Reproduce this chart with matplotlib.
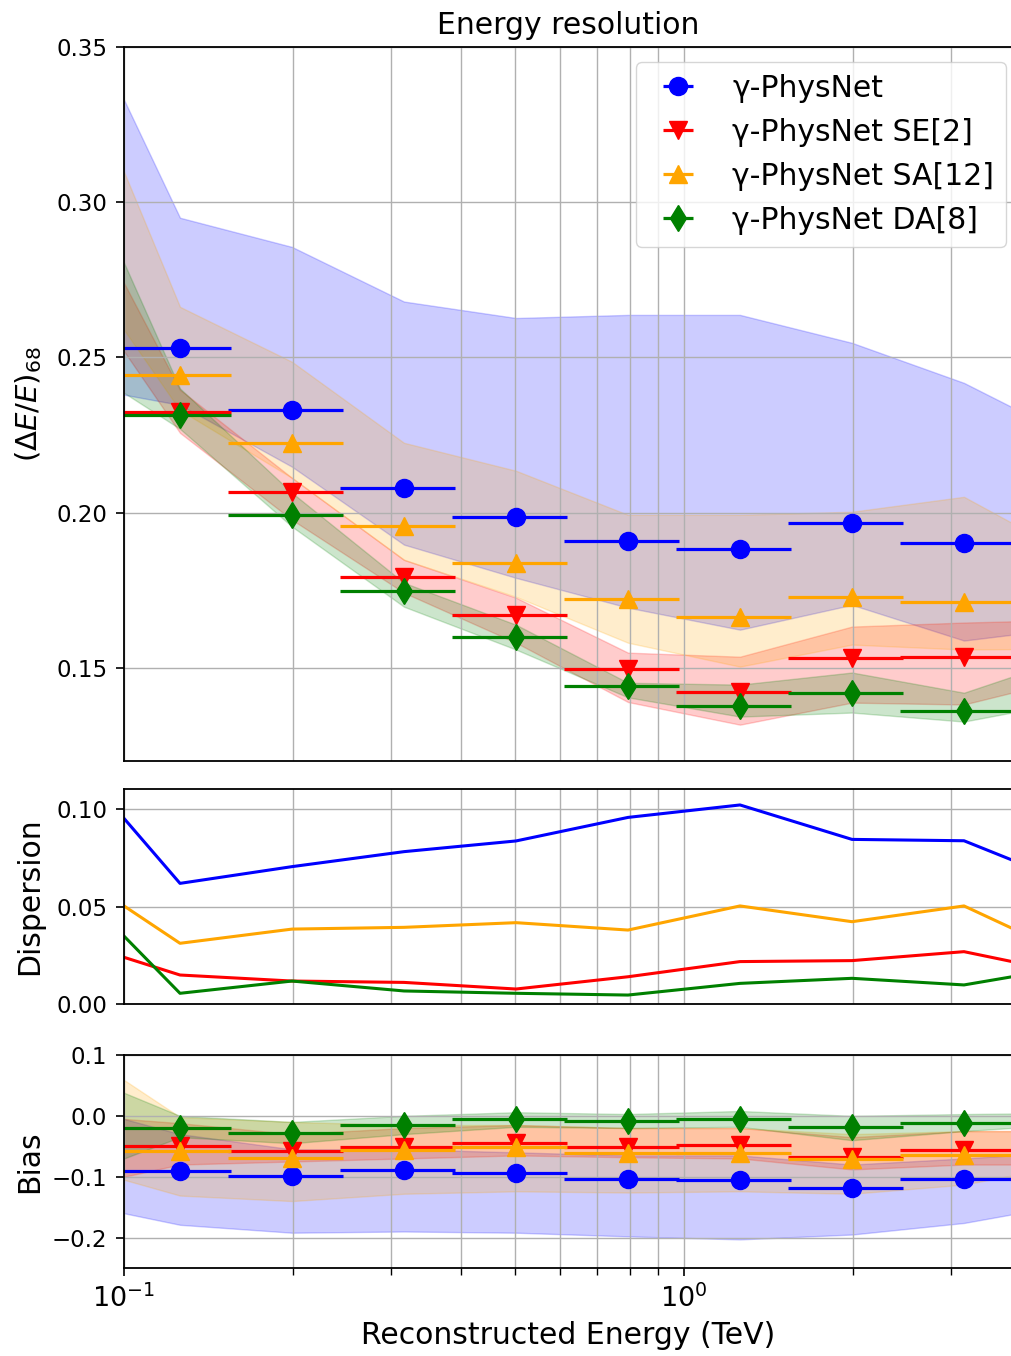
import numpy as np
import matplotlib
matplotlib.use("Agg")
import matplotlib.pyplot as plt

# Energy binning (TeV): 5 bins per decade, one extra bin on each side of the view
energy_edges = np.logspace(-1.2, 0.8, 11)
energy = np.sqrt(energy_edges[:-1] * energy_edges[1:])
inner = slice(1, 9)  # bins fully inside the displayed range

labels = ["γ-PhysNet", "γ-PhysNet SE[2]", "γ-PhysNet SA[12]", "γ-PhysNet DA[8]"]
colors = ["blue", "red", "orange", "green"]
markers = ["o", "v", "^", "d"]

# Energy resolution (68% containment) per bin
res_physnet = [0.2531, 0.2331, 0.2080, 0.1987, 0.1910, 0.1884, 0.1968, 0.1903]
res_se2 = [0.2325, 0.2067, 0.1794, 0.1671, 0.1497, 0.1423, 0.1532, 0.1536]
res_sa12 = [0.2444, 0.2225, 0.1958, 0.1839, 0.1723, 0.1665, 0.1729, 0.1713]
res_da8 = [0.2315, 0.1993, 0.1749, 0.1600, 0.1443, 0.1378, 0.1420, 0.1362]

# Resolution spread across runs (upper / lower envelope)
res_physnet_hi = [0.371, 0.295, 0.2856, 0.268, 0.2627, 0.2637, 0.2637, 0.2547, 0.2418, 0.2236]
res_physnet_lo = [0.2413, 0.2347, 0.2148, 0.1897, 0.179, 0.1694, 0.1623, 0.1703, 0.1588, 0.1632]
res_se2_hi = [0.3084, 0.2396, 0.2112, 0.1848, 0.1726, 0.1549, 0.1536, 0.1633, 0.1646, 0.1655]
res_se2_lo = [0.2783, 0.2257, 0.1977, 0.1742, 0.1581, 0.1390, 0.1317, 0.1388, 0.1382, 0.1471]
res_sa12_hi = [0.3533, 0.2663, 0.2486, 0.2225, 0.2135, 0.1993, 0.1993, 0.2003, 0.2051, 0.1855]
res_sa12_lo = [0.2848, 0.2330, 0.2112, 0.1848, 0.1729, 0.1581, 0.1504, 0.1575, 0.1559, 0.1562]
res_da8_hi = [0.3210, 0.2400, 0.2064, 0.1774, 0.1639, 0.1452, 0.1446, 0.1485, 0.1420, 0.1541]
res_da8_lo = [0.2502, 0.2270, 0.1955, 0.1697, 0.1559, 0.1405, 0.1343, 0.1356, 0.1327, 0.1395]

# Dispersion of the resolution across runs
disp_physnet = [0.1288, 0.0620, 0.0706, 0.0783, 0.0838, 0.0959, 0.1023, 0.0846, 0.0839, 0.0608]
disp_se2 = [0.0331, 0.0149, 0.0118, 0.0111, 0.0077, 0.0140, 0.0218, 0.0223, 0.0269, 0.0150]
disp_sa12 = [0.0696, 0.0312, 0.0385, 0.0394, 0.0418, 0.0380, 0.0504, 0.0423, 0.0504, 0.0236]
disp_da8 = [0.0643, 0.0055, 0.0118, 0.0067, 0.0055, 0.0046, 0.0106, 0.0132, 0.0098, 0.0196]

# Energy bias per bin
bias_physnet = [-0.0913, -0.0995, -0.0885, -0.0940, -0.1038, -0.1061, -0.1186, -0.1038]
bias_se2 = [-0.0492, -0.0585, -0.0513, -0.0448, -0.0513, -0.0487, -0.0677, -0.0557]
bias_sa12 = [-0.0585, -0.0694, -0.0557, -0.0513, -0.0611, -0.0611, -0.0710, -0.0639]
bias_da8 = [-0.0202, -0.0284, -0.0148, -0.0054, -0.0082, -0.0054, -0.0186, -0.0110]

bias_physnet_hi = [0.020, -0.030, -0.055, -0.055, -0.060, -0.065, -0.065, -0.080, -0.070, -0.058]
bias_physnet_lo = [-0.141, -0.179, -0.192, -0.190, -0.192, -0.198, -0.203, -0.195, -0.176, -0.143]
bias_se2_hi = [0.002, -0.012, -0.030, -0.020, -0.015, -0.020, -0.020, -0.035, -0.025, -0.025]
bias_se2_lo = [-0.120, -0.080, -0.075, -0.070, -0.065, -0.068, -0.070, -0.088, -0.080, -0.080]
bias_sa12_hi = [0.120, -0.002, -0.010, -0.015, -0.015, -0.020, -0.020, -0.030, -0.025, -0.025]
bias_sa12_lo = [-0.079, -0.131, -0.140, -0.128, -0.124, -0.126, -0.124, -0.128, -0.113, -0.078]
bias_da8_hi = [0.076, 0.000, -0.010, 0.000, 0.006, 0.003, 0.008, 0.000, 0.003, 0.005]
bias_da8_lo = [-0.105, -0.035, -0.045, -0.030, -0.018, -0.020, -0.018, -0.040, -0.025, -0.013]

res_vals = [res_physnet, res_se2, res_sa12, res_da8]
res_bands = [(res_physnet_lo, res_physnet_hi), (res_se2_lo, res_se2_hi),
             (res_sa12_lo, res_sa12_hi), (res_da8_lo, res_da8_hi)]
disp_vals = [disp_physnet, disp_se2, disp_sa12, disp_da8]
bias_vals = [bias_physnet, bias_se2, bias_sa12, bias_da8]
bias_bands = [(bias_physnet_lo, bias_physnet_hi), (bias_se2_lo, bias_se2_hi),
              (bias_sa12_lo, bias_sa12_hi), (bias_da8_lo, bias_da8_hi)]

# horizontal error = half of the (linear) bin width
xerr = ((energy_edges[1:] - energy_edges[:-1]) / 2)[inner]
e_in = energy[inner]

W, H = 1012, 1356
fig = plt.figure(figsize=(W / 100, H / 100), dpi=100)

def frac(top_px, bottom_px):
    return [124 / W, 1 - bottom_px / H, (W - 124) / W, (bottom_px - top_px) / H]

ax_res = fig.add_axes(frac(47, 761))
ax_disp = fig.add_axes(frac(789, 1004), sharex=ax_res)
ax_bias = fig.add_axes(frac(1055, 1268), sharex=ax_res)

err_kw = dict(ls="none", ms=13, elinewidth=2.3, capsize=0)

for i in range(4):
    c = colors[i]
    ax_res.errorbar(e_in, res_vals[i], xerr=xerr, color=c, marker=markers[i],
                    label=labels[i], **err_kw)
    ax_res.fill_between(energy, res_bands[i][0], res_bands[i][1], color=c, alpha=0.2)

    ax_disp.plot(energy, disp_vals[i], color=c, lw=2.2)

    ax_bias.errorbar(e_in, bias_vals[i], xerr=xerr, color=c, marker=markers[i], **err_kw)
    ax_bias.fill_between(energy, bias_bands[i][0], bias_bands[i][1], color=c, alpha=0.2)

ax_res.set_xscale("log")
ax_res.set_xlim(0.1, 10 ** 0.5857)
ax_res.set_ylim(0.12, 0.35)
ax_disp.set_ylim(0.0, 0.1105)
ax_bias.set_ylim(-0.25, 0.1)

ax_res.set_title("Energy resolution", fontsize=21.5, pad=9)
ax_res.set_ylabel(r"$(\Delta E/E)_{68}$", fontsize=21)
ax_disp.set_ylabel("Dispersion", fontsize=21.5)
ax_bias.set_ylabel("Bias", fontsize=21.5)
ax_bias.set_xlabel("Reconstructed Energy (TeV)", fontsize=21.5, labelpad=6)

for ax in (ax_res, ax_disp, ax_bias):
    ax.grid(True, which="both", color="#b0b0b0", lw=1.0)
    ax.spines["right"].set_visible(False)
    ax.tick_params(axis="y", labelsize=16.5, length=6, width=1.2, pad=6)
    ax.tick_params(axis="x", which="major", labelsize=19.5, length=6, width=1.2, pad=6)
    ax.tick_params(axis="x", which="minor", length=5, width=1.0)
    ax.yaxis.set_label_coords(-0.09, 0.5)
    for s in ax.spines.values():
        s.set_linewidth(1.3)

for ax in (ax_res, ax_disp):
    ax.tick_params(axis="x", which="both", labelbottom=False, length=0)

ax_res.legend(loc="upper right", fontsize=21.5, borderaxespad=0,
              bbox_to_anchor=(0.9932, 0.979))

fig.savefig("out.png", dpi=100)
